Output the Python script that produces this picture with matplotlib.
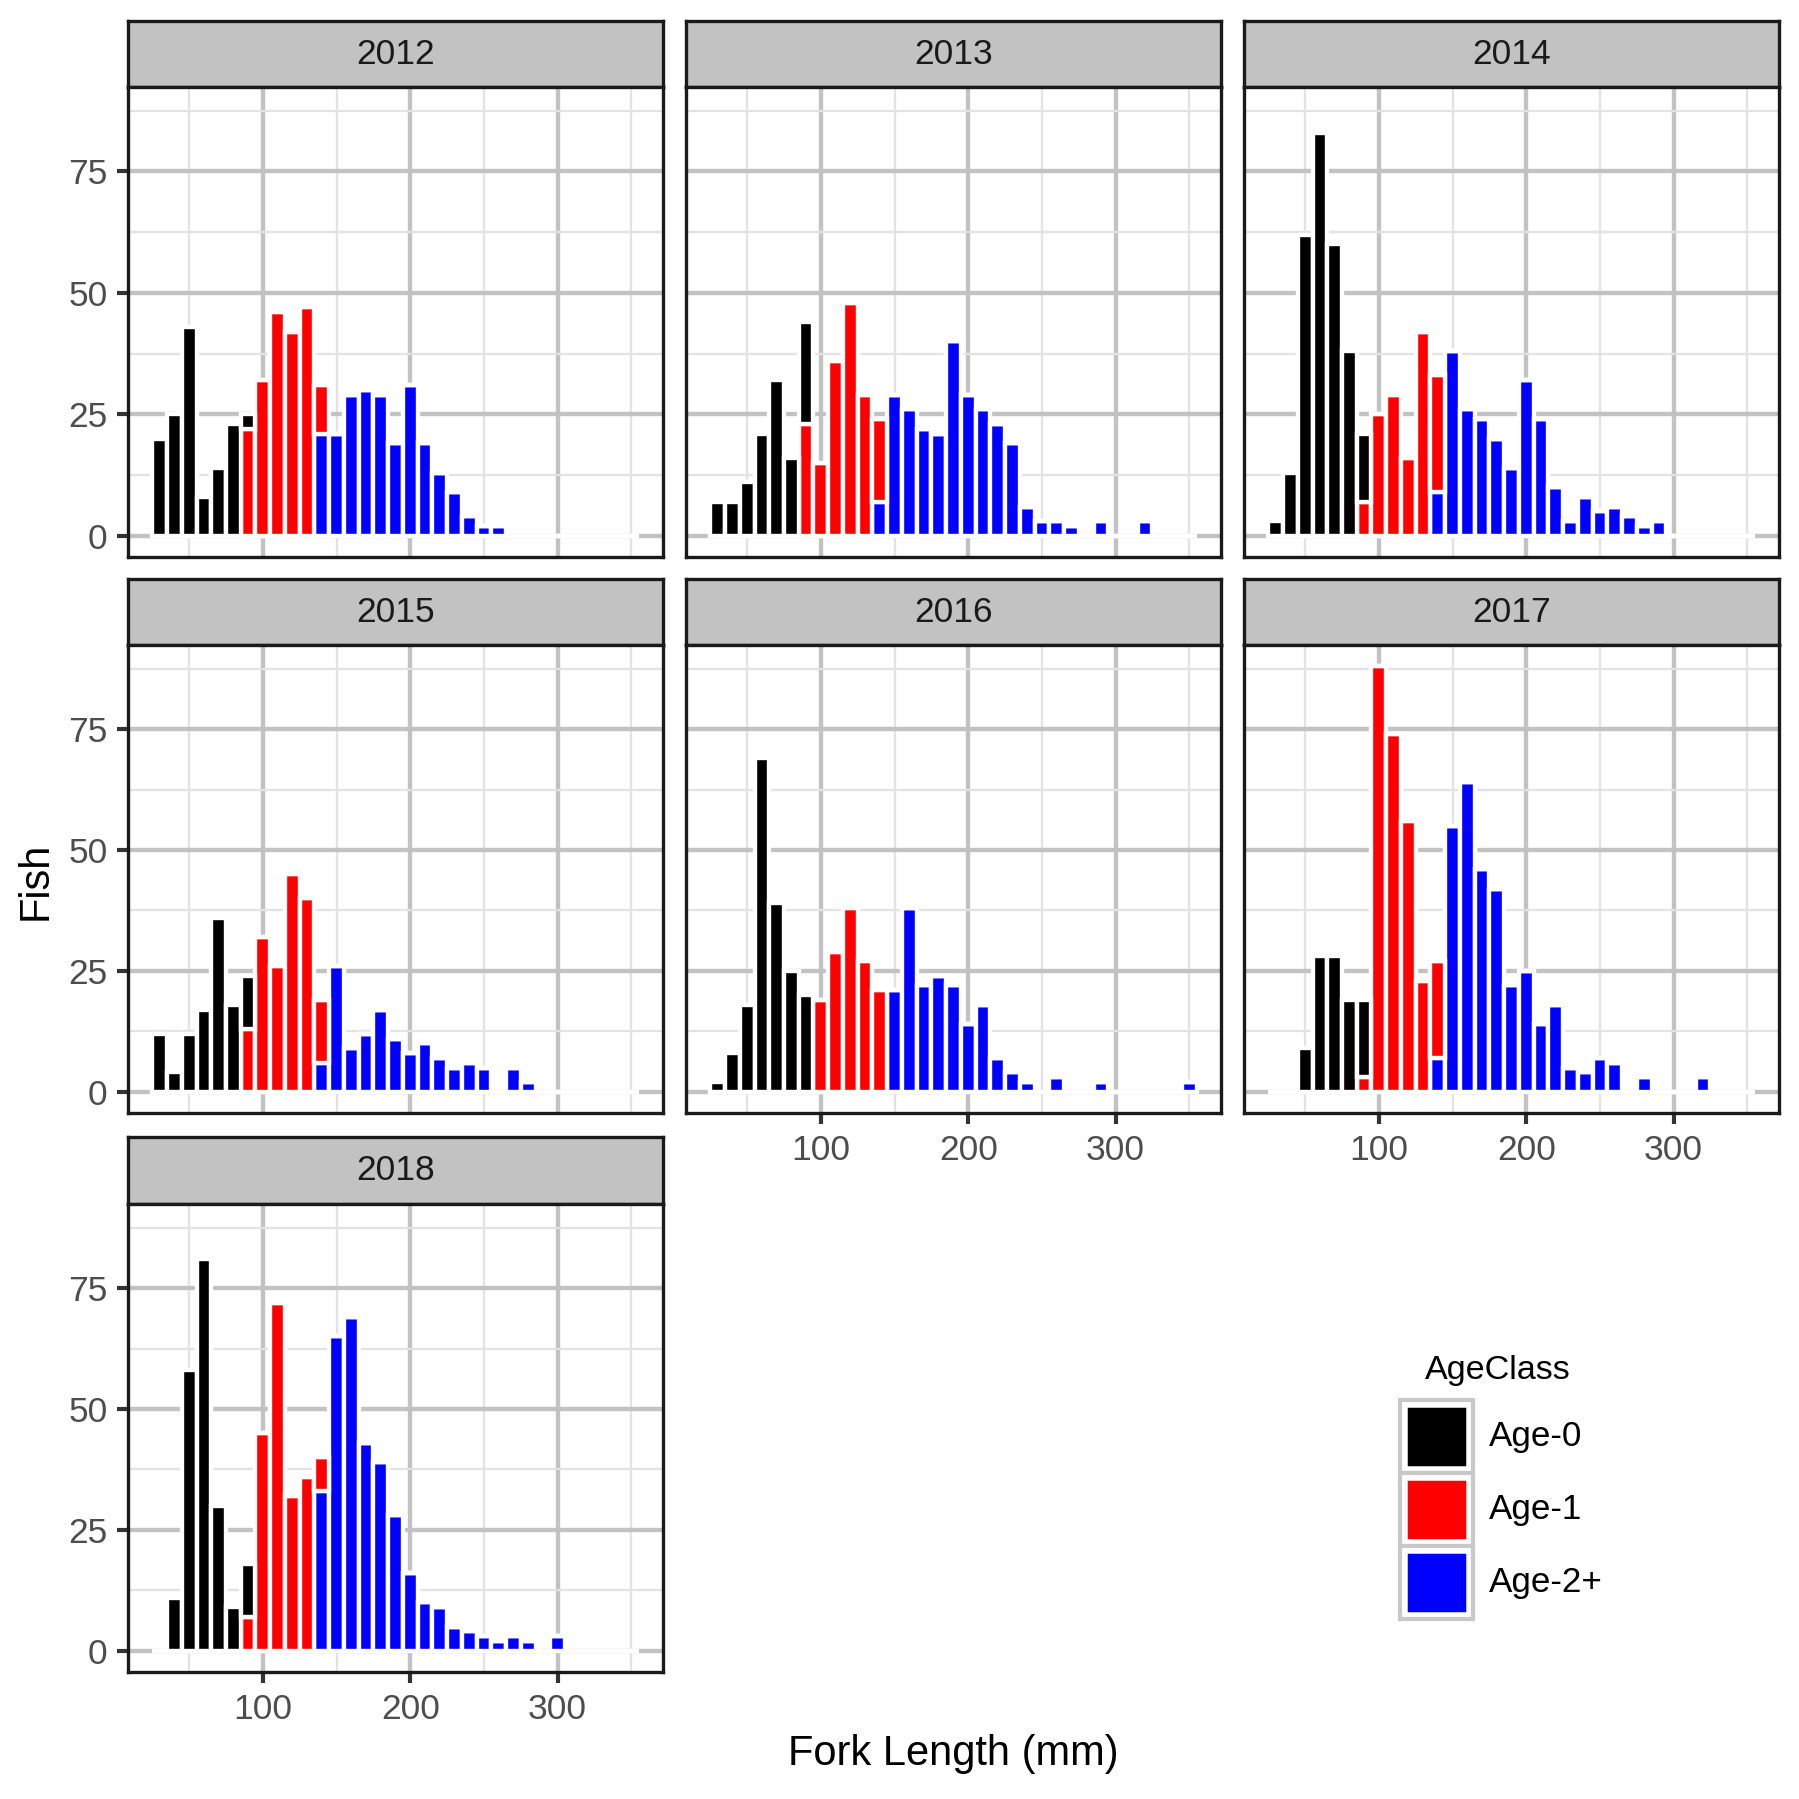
import matplotlib
matplotlib.use("Agg")
import matplotlib.pyplot as plt
from matplotlib.patches import Rectangle
import numpy as np

plt.rcParams['font.family'] = ['Liberation Sans', 'DejaVu Sans']

# ---------------- data ----------------
bins = [30, 40, 50, 60, 70, 80, 90, 100, 110, 120, 130, 140, 150, 160, 170, 180,
        190, 200, 210, 220, 230, 240, 250, 260, 270, 280, 290, 300, 310, 320, 330, 340, 350]
years = ["2012", "2013", "2014", "2015", "2016", "2017", "2018"]
age_classes = ["Age-0", "Age-1", "Age-2+"]
class_colors = ["#000000", "#FF0000", "#0000FF"]

#                30 40 50 60 70 80 90 100 110 120 130 140 150 160 170 180 190 200 210 220 230 240 250 260 270 280 290 300 310 320 330 340 350
age0_2012 =    [20, 25, 43, 8, 14, 23, 3,  0,  0,  0,  0,  0,  0,  0,  0,  0,  0,  0,  0,  0,  0,  0,  0,  0,  0,  0,  0,  0,  0,  0,  0,  0,  0]
age1_2012 =    [0,  0,  0,  0, 0,  0,  22, 32, 46, 42, 47, 10, 0,  0,  0,  0,  0,  0,  0,  0,  0,  0,  0,  0,  0,  0,  0,  0,  0,  0,  0,  0,  0]
age2_2012 =    [0,  0,  0,  0, 0,  0,  0,  0,  0,  0,  0,  21, 21, 29, 30, 29, 19, 31, 19, 13, 9,  4,  2,  2,  0,  0,  0,  0,  0,  0,  0,  0,  0]

age0_2013 =    [7,  7,  11, 21, 32, 16, 21, 0, 0,  0,  0,  0,  0,  0,  0,  0,  0,  0,  0,  0,  0,  0,  0,  0,  0,  0,  0,  0,  0,  0,  0,  0,  0]
age1_2013 =    [0,  0,  0,  0,  0,  0,  23, 15, 36, 48, 29, 17, 0,  0,  0,  0,  0,  0,  0,  0,  0,  0,  0,  0,  0,  0,  0,  0,  0,  0,  0,  0,  0]
age2_2013 =    [0,  0,  0,  0,  0,  0,  0,  0,  0,  0,  0,  7,  29, 26, 22, 21, 40, 29, 26, 23, 19, 6,  3,  3,  2,  0,  3,  0,  0,  3,  0,  0,  0]

age0_2014 =    [3,  13, 62, 83, 60, 38, 14, 0,  0,  0,  0,  0,  0,  0,  0,  0,  0,  0,  0,  0,  0,  0,  0,  0,  0,  0,  0,  0,  0,  0,  0,  0,  0]
age1_2014 =    [0,  0,  0,  0,  0,  0,  7,  25, 29, 16, 42, 24, 0,  0,  0,  0,  0,  0,  0,  0,  0,  0,  0,  0,  0,  0,  0,  0,  0,  0,  0,  0,  0]
age2_2014 =    [0,  0,  0,  0,  0,  0,  0,  0,  0,  0,  0,  9,  38, 26, 24, 20, 14, 32, 24, 10, 3,  8,  5,  6,  4,  2,  3,  0,  0,  0,  0,  0,  0]

age0_2015 =    [12, 4,  12, 17, 36, 18, 11, 0,  0,  0,  0,  0,  0,  0,  0,  0,  0,  0,  0,  0,  0,  0,  0,  0,  0,  0,  0,  0,  0,  0,  0,  0,  0]
age1_2015 =    [0,  0,  0,  0,  0,  0,  13, 32, 26, 45, 40, 13, 0,  0,  0,  0,  0,  0,  0,  0,  0,  0,  0,  0,  0,  0,  0,  0,  0,  0,  0,  0,  0]
age2_2015 =    [0,  0,  0,  0,  0,  0,  0,  0,  0,  0,  0,  6,  26, 9,  12, 17, 11, 8,  10, 7,  5,  6,  5,  0,  5,  2,  0,  0,  0,  0,  0,  0,  0]

age0_2016 =    [2,  8,  18, 69, 39, 25, 20, 0,  0,  0,  0,  0,  0,  0,  0,  0,  0,  0,  0,  0,  0,  0,  0,  0,  0,  0,  0,  0,  0,  0,  0,  0,  0]
age1_2016 =    [0,  0,  0,  0,  0,  0,  0,  19, 29, 38, 27, 21, 0,  0,  0,  0,  0,  0,  0,  0,  0,  0,  0,  0,  0,  0,  0,  0,  0,  0,  0,  0,  0]
age2_2016 =    [0,  0,  0,  0,  0,  0,  0,  0,  0,  0,  0,  0,  21, 38, 22, 24, 22, 14, 18, 7,  4,  2,  0,  3,  0,  0,  2,  0,  0,  0,  0,  0,  2]

age0_2017 =    [0,  0,  9,  28, 28, 19, 16, 0,  0,  0,  0,  0,  0,  0,  0,  0,  0,  0,  0,  0,  0,  0,  0,  0,  0,  0,  0,  0,  0,  0,  0,  0,  0]
age1_2017 =    [0,  0,  0,  0,  0,  0,  3,  88, 74, 56, 23, 20, 0,  0,  0,  0,  0,  0,  0,  0,  0,  0,  0,  0,  0,  0,  0,  0,  0,  0,  0,  0,  0]
age2_2017 =    [0,  0,  0,  0,  0,  0,  0,  0,  0,  0,  0,  7,  55, 64, 46, 42, 22, 25, 14, 18, 5,  4,  7,  6,  0,  3,  0,  0,  0,  3,  0,  0,  0]

age0_2018 =    [0,  11, 58, 81, 30, 9,  11, 0,  0,  0,  0,  0,  0,  0,  0,  0,  0,  0,  0,  0,  0,  0,  0,  0,  0,  0,  0,  0,  0,  0,  0,  0,  0]
age1_2018 =    [0,  0,  0,  0,  0,  0,  7,  45, 72, 32, 36, 7,  0,  0,  0,  0,  0,  0,  0,  0,  0,  0,  0,  0,  0,  0,  0,  0,  0,  0,  0,  0,  0]
age2_2018 =    [0,  0,  0,  0,  0,  0,  0,  0,  0,  0,  0,  33, 65, 69, 43, 39, 28, 16, 10, 9,  5,  4,  3,  2,  3,  2,  0,  3,  0,  0,  0,  0,  0]

series = {
    "2012": (age0_2012, age1_2012, age2_2012),
    "2013": (age0_2013, age1_2013, age2_2013),
    "2014": (age0_2014, age1_2014, age2_2014),
    "2015": (age0_2015, age1_2015, age2_2015),
    "2016": (age0_2016, age1_2016, age2_2016),
    "2017": (age0_2017, age1_2017, age2_2017),
    "2018": (age0_2018, age1_2018, age2_2018),
}
x_ticks = [100, 200, 300]
y_ticks = [0, 25, 50, 75]

# ---------------- layout ----------------
W = H = 1799
DPI = 300
fig = plt.figure(figsize=(W / DPI, H / DPI), dpi=DPI)
fig.patch.set_facecolor("white")

def box(x0, y0, x1, y1):
    return [x0 / W, 1 - y1 / H, (x1 - x0) / W, (y1 - y0) / H]

cols = [(128, 663), (686, 1221), (1244, 1779)]
rows = [((21, 87), (87, 557)), ((579, 645), (645, 1113)), ((1137, 1204), (1204, 1672))]

binw = bins[1] - bins[0]
xlo, xhi = bins[0] - binw / 2, bins[-1] + binw / 2
xpad = 0.05 * (xhi - xlo)
ymax_all = max(max(np.array(a) + np.array(b) + np.array(c)) for a, b, c in series.values())
ypad = 0.05 * ymax_all

MAJ_C, MIN_C = "#C2C2C2", "#E3E3E3"
TICK_C = "#4D4D4D"

for i, yr in enumerate(years):
    r, c = divmod(i, 3)
    (sy0, sy1), (py0, py1) = rows[r]
    cx0, cx1 = cols[c]
    # strip
    sax = fig.add_axes(box(cx0, sy0, cx1, sy1))
    sax.set_facecolor("#C2C2C2")
    sax.set_xticks([]); sax.set_yticks([])
    for s in sax.spines.values():
        s.set_color("#1A1A1A"); s.set_linewidth(0.8)
    sax.text(0.5, 0.5, yr, ha="center", va="center", fontsize=8.5, color="#1A1A1A",
             transform=sax.transAxes)
    # panel
    ax = fig.add_axes(box(cx0, py0, cx1, py1))
    a0, a1, a2 = (np.array(v, dtype=float) for v in series[yr])
    ax.bar(bins, a2, width=binw, color=class_colors[2], edgecolor="white", linewidth=1.05, zorder=2)
    ax.bar(bins, a1, width=binw, bottom=a2, color=class_colors[1], edgecolor="white", linewidth=1.05, zorder=2)
    ax.bar(bins, a0, width=binw, bottom=a2 + a1, color=class_colors[0], edgecolor="white", linewidth=1.05, zorder=2)
    ax.set_xlim(xlo - xpad, xhi + xpad)
    ax.set_ylim(-ypad, ymax_all + ypad)
    ax.set_xticks(x_ticks)
    ax.set_xticks([50, 150, 250, 350], minor=True)
    ax.set_yticks(y_ticks)
    ax.set_yticks([12.5, 37.5, 62.5, 87.5], minor=True)
    ax.set_axisbelow(True)
    ax.grid(which="major", color=MAJ_C, linewidth=1.05)
    ax.grid(which="minor", color=MIN_C, linewidth=0.55)
    for s in ax.spines.values():
        s.set_color("#1A1A1A"); s.set_linewidth(0.8); s.set_zorder(5)
    ax.tick_params(which="minor", length=0)
    ax.tick_params(which="major", length=2.75, width=1.0, color="#333333",
                   labelsize=8.5, labelcolor=TICK_C, pad=2.2)
    show_x = yr in ("2016", "2017", "2018")
    show_y = c == 0
    ax.tick_params(axis="x", bottom=show_x, labelbottom=show_x)
    ax.tick_params(axis="y", left=show_y, labelleft=show_y)

# overlay for titles & legend
ov = fig.add_axes([0, 0, 1, 1])
ov.set_xlim(0, W); ov.set_ylim(H, 0)
ov.axis("off")
ov.patch.set_alpha(0)

ov.text(953, 1754, "Fork Length (mm)", ha="center", va="center", fontsize=10, color="black")
ov.text(36, 881, "Fish", ha="center", va="center", rotation=90, fontsize=10, color="black")

# legend
ov.text(1498, 1371, "AgeClass", ha="center", va="center", fontsize=8.2, color="black")
key_x0, key_w = 1400, 73
key_tops = [1400, 1473, 1546]
for lab, col, ky in zip(age_classes, class_colors, key_tops):
    ov.add_patch(Rectangle((key_x0, ky), key_w, key_w, facecolor="white",
                           edgecolor="#C8C8C8", linewidth=1.0))
    ov.add_patch(Rectangle((key_x0 + 6, ky + 6), key_w - 12, key_w - 12, facecolor=col,
                           edgecolor="white", linewidth=0.6))
    ov.text(1489, ky + key_w / 2, lab, ha="left", va="center", fontsize=8.4, color="black")

fig.savefig("out.png", dpi=DPI, facecolor="white")
